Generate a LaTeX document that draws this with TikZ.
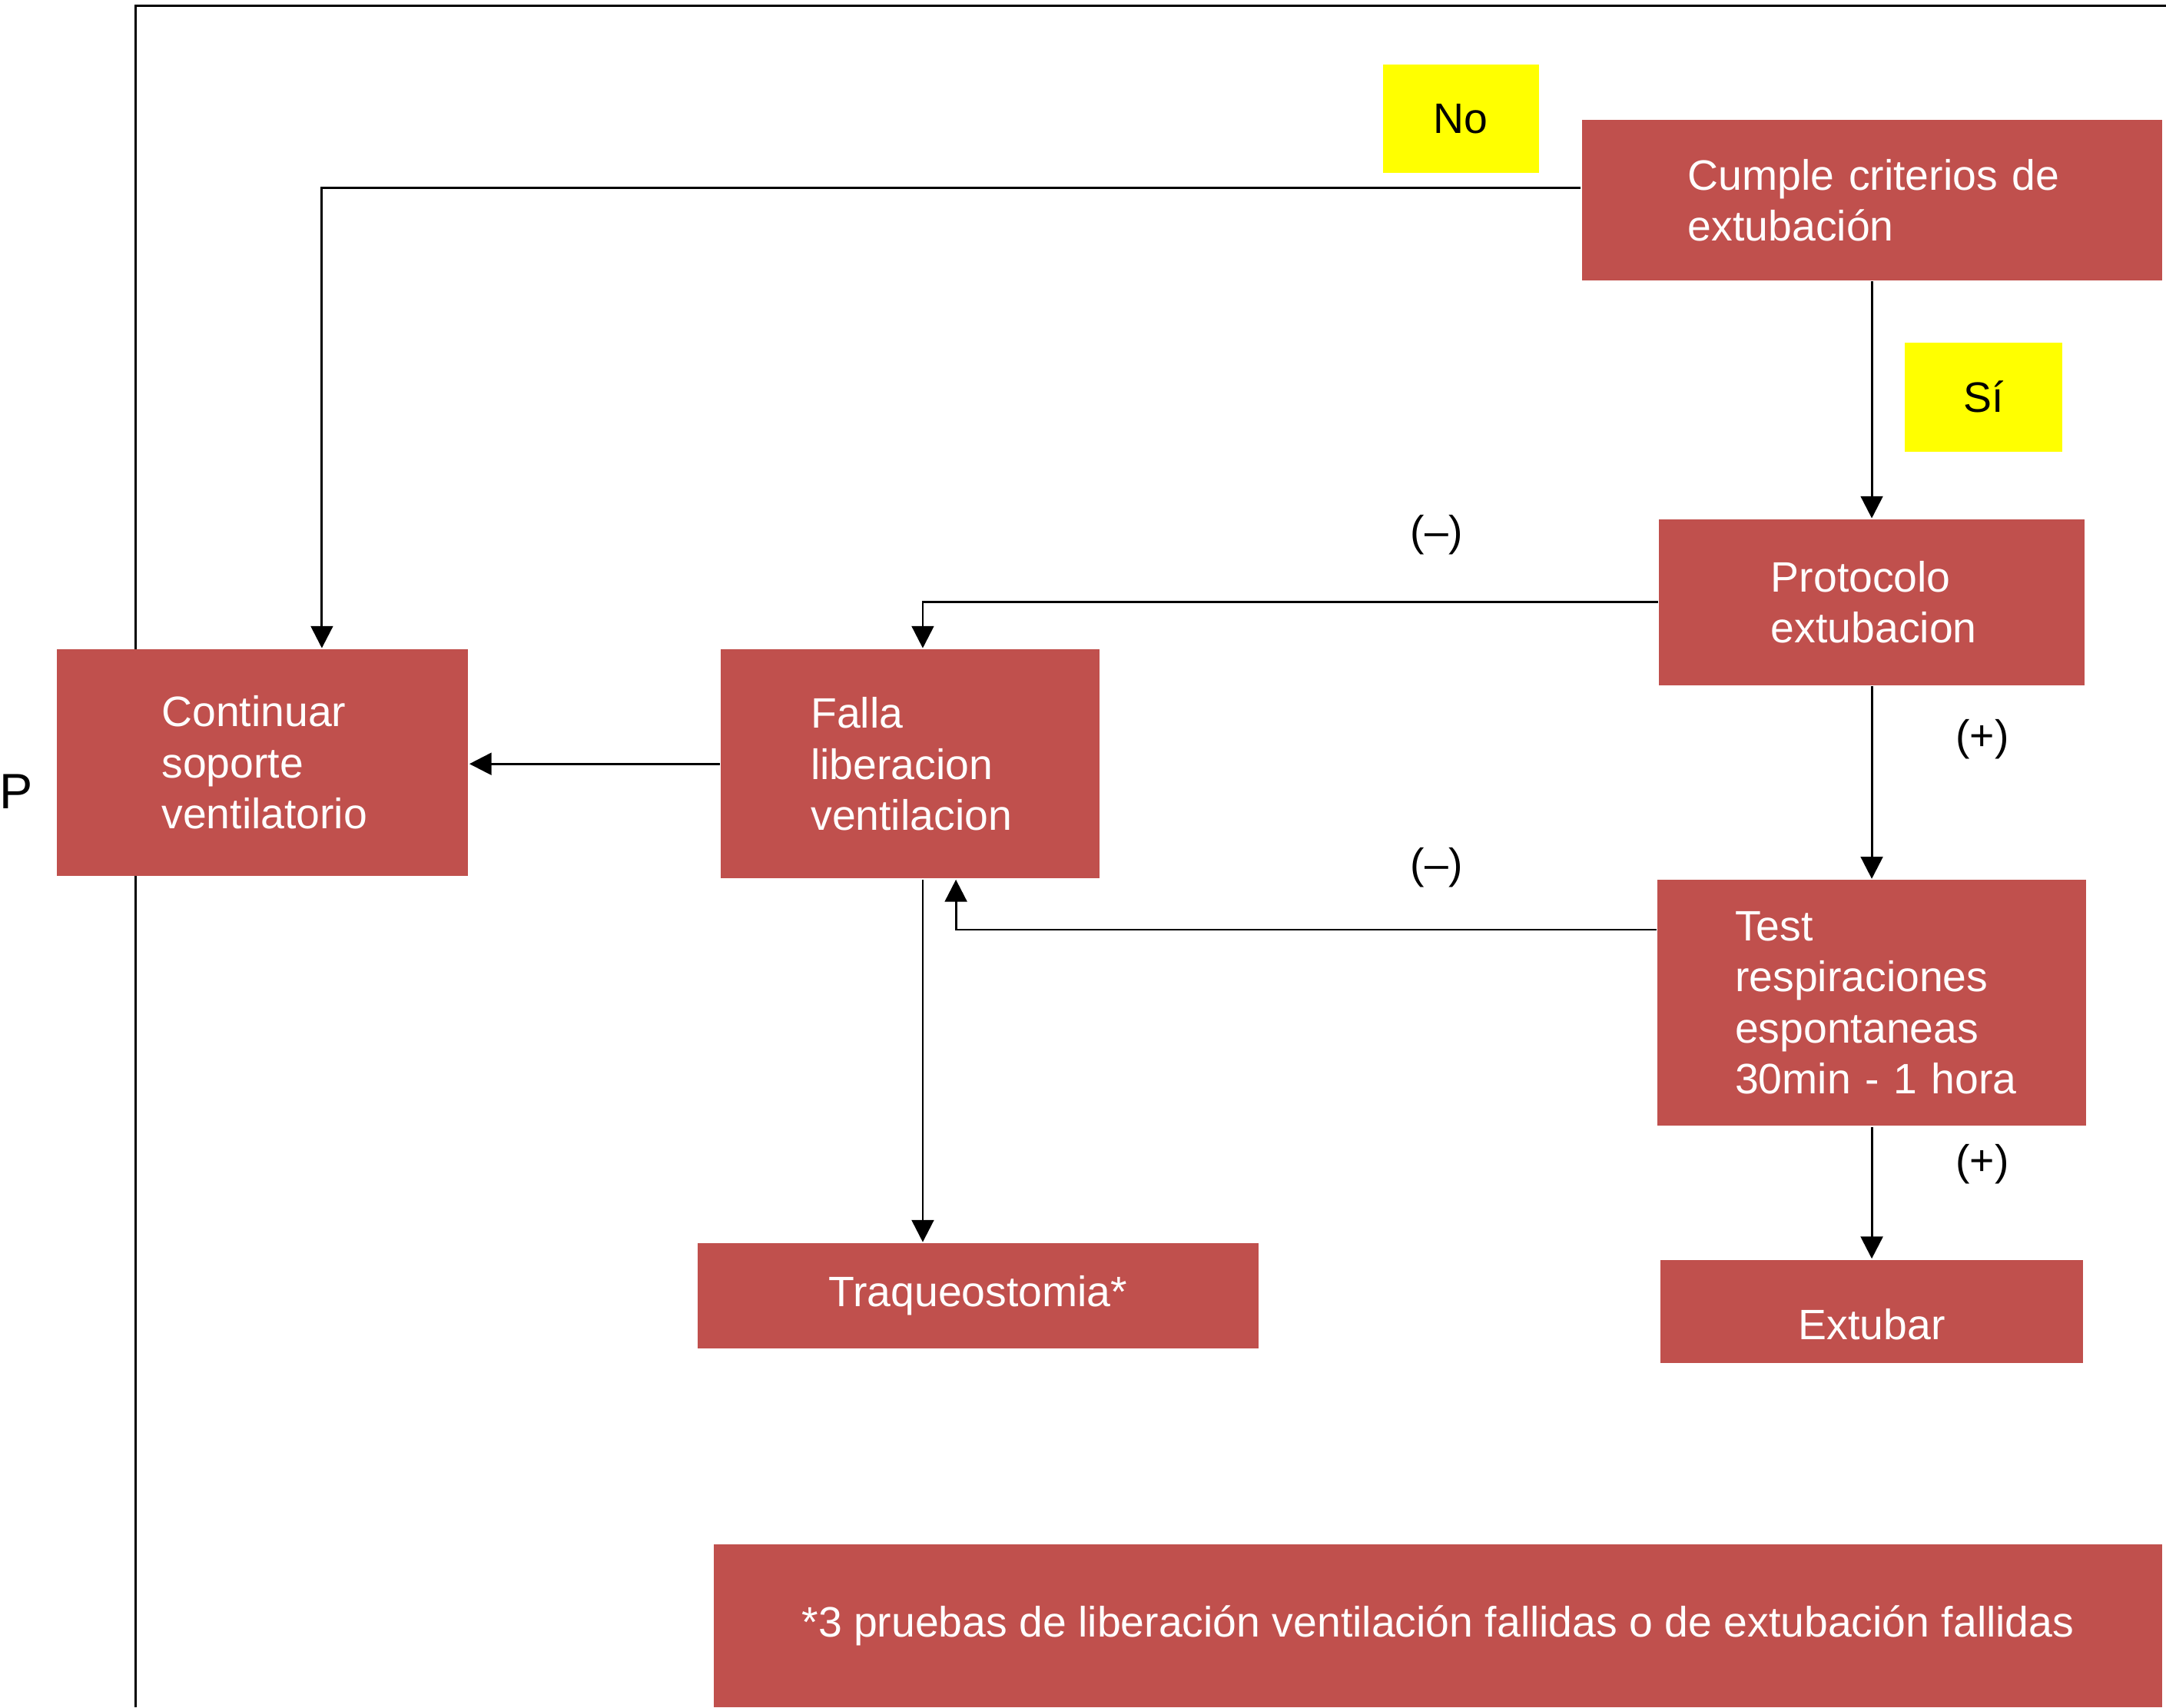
\documentclass[tikz,border=0pt]{standalone}
\usepackage{fontspec}
\setmainfont{Liberation Sans}
\usetikzlibrary{arrows.meta,positioning,calc}
\definecolor{boxred}{HTML}{C0504D}
\definecolor{tagyellow}{HTML}{FFFF00}
\tikzstyle{redbox}=[fill=boxred,text=white,inner sep=0pt,align=left,font=\fontsize{15.4}{18.5}\selectfont]
\tikzstyle{tag}=[fill=tagyellow,text=black,inner sep=0pt,font=\fontsize{15.4}{18.5}\selectfont]
\tikzstyle{sign}=[text=black,inner sep=0pt,font=\fontsize{15.4}{18.5}\selectfont]
\begin{document}
\begin{tikzpicture}[x=0.5pt,y=-0.5pt,
every path/.style={line width=0.8pt},
arr/.style={draw,-{Triangle[length=8pt,width=8pt]}}]
\useasboundingbox (0,0) rectangle (1568,1236);
% frame
\coordinate (fbot) at (98,1236);
\coordinate (fcorner) at (98,4);
\coordinate (fright) at (1568,4);
\draw (fbot) -- (fcorner) -- (fright);
\node[sign,font=\fontsize{18}{20}\selectfont] (p) at (12,573) {P};
% boxes
\node [redbox,minimum width=210pt,minimum height=58pt,text width=133pt] (cumple) at (1355,145) {\mbox{Cumple criterios de}\\extubación};
\node [redbox,minimum width=154pt,minimum height=60pt,text width=73pt] (protocolo) at (1355,436) {Protocolo\\extubacion};
\node [redbox,minimum width=149pt,minimum height=82pt,text width=73pt] (continuar) at (190,552) {Continuar\\soporte\\ventilatorio};
\node [redbox,minimum width=137pt,minimum height=83pt,text width=72pt] (falla) at (659,553) {Falla\\liberacion\\ventilacion};
\node [redbox,minimum width=155pt,minimum height=89pt,text width=99pt] (test) at (1355,726) {Test\\respiraciones\\espontaneas\\\mbox{30min - 1 hora}};
\node [redbox,align=center,minimum width=203pt,minimum height=38pt] (traqueo) at (708,938) {Traqueostomia*};
\node [redbox,align=center,minimum width=153pt,minimum height=37.5pt] (extubar) at (1355,949.5) {\raisebox{-10pt}[0pt][0pt]{Extubar}};
\node [redbox,align=center,minimum width=524pt,minimum height=59pt] (nota) at (1041,1177) {*3 pruebas de liberación ventilación fallidas o de extubación fallidas};
% tags
\node [tag,minimum width=56.5pt,minimum height=39pt] (no) at (1057.5,86) {No};
\node [tag,minimum width=57pt,minimum height=39.5pt] (si) at (1436,287.5) {Sí};
\node [sign] (menos1) at (1040,387) {(--)};
\node [sign] (menos2) at (1040,628) {(--)};
\node [sign] (mas1) at (1435,535) {(+)};
\node [sign] (mas2) at (1435,843) {(+)};
% connectors
\draw [arr] ([yshift=4.5pt]cumple.west) -| ([xshift=21.5pt]continuar.north);
\draw [arr] (cumple.south) -- (protocolo.north);
\draw [arr] (protocolo.west) -| ([xshift=4.5pt]falla.north);
\draw [arr] (protocolo.south) -- (test.north);
\draw [arr] ([yshift=26.5pt]test.west) -| ([xshift=16.5pt]falla.south);
\draw [arr] (falla.west) -- (falla.west -| continuar.east);
\draw [arr] ([xshift=4.5pt]falla.south) -- ([xshift=4.5pt]falla.south |- traqueo.north);
\draw [arr] (test.south) -- (extubar.north);
\end{tikzpicture}
\end{document}
